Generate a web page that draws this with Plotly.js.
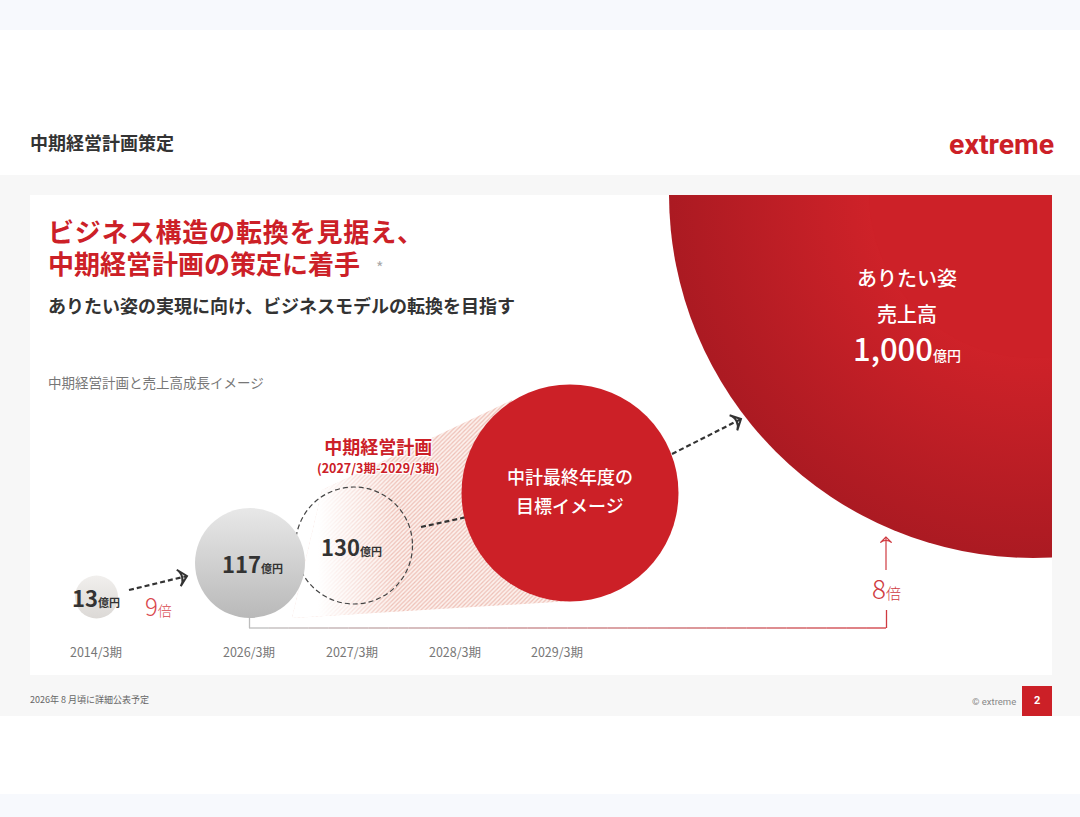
<!DOCTYPE html>
<html>
<head>
<meta charset="utf-8">
<script src="https://cdn.plot.ly/plotly-3.0.1.min.js"></script>
<style>html,body{margin:0;padding:0;background:#fff}#chart{width:1080px;height:817px}</style>
</head>
<body>
<div id="chart"></div>
<script>
// what the slide says
const periods = ["2014/3期", "2026/3期", "2027/3期", "2028/3期", "2029/3期"];
const salesLabels = ["13", "117", "130", "1,000"];
const salesUnit = "億円";
const multiples = ["9", "8"];
const goalLines = ["中計最終年度の", "目標イメージ"];
const visionLines = ["ありたい姿", "売上高"];

// where it sits on the page (px)
const tickX = [96, 249, 352, 455, 557];
const bubbleX = [96.5, 250, 570, 1033];
const bubbleY = [597, 563, 493, 194];
const bubbleSize = [43, 110, 217, 728];

const FONT = '"Noto Sans CJK JP", "Noto Sans", sans-serif';
const RED = "#cc2027";
const INK = "#333333";

const rect = (x0, y0, x1, y1, color) => ({
  type: "rect", xref: "x", yref: "y", layer: "below", x0, y0, x1, y1,
  fillcolor: color, line: { width: 0 },
});

const note = (x, y, text, size, color, extra = {}) => ({
  xref: "x", yref: "y", x, y, text, showarrow: false,
  xanchor: extra.anchor || "center", yanchor: "middle", borderpad: 0,
  align: extra.anchor === "left" ? "left" : "center",
  font: { family: FONT, size, color, ...(extra.font || {}) },
});

const valueText = (label, unitSize) =>
  `<b>${label}</b><span style="font-size:${unitSize}px;font-weight:700">${salesUnit}</span>`;

const multipleText = (label, unitSize) =>
  `${label}<span style="font-size:${unitSize}px">倍</span>`;

const bubble = (i, color, gradient, gradientColor, size = bubbleSize[i]) => ({
  x: [bubbleX[i]],
  y: [bubbleY[i]],
  xaxis: "x2",
  yaxis: "y2",
  mode: "markers",
  cliponaxis: true,
  hoverinfo: "skip",
  showlegend: false,
  marker: {
    size,
    color,
    opacity: 1,
    line: { width: 0 },
    ...(gradient ? { gradient: { type: gradient, color: gradientColor } } : {}),
  },
});

const dashedArrow = (x, y) => ({
  x, y, xaxis: "x2", yaxis: "y2",
  mode: "lines+markers",
  hoverinfo: "skip",
  showlegend: false,
  line: { color: INK, width: 2.2, dash: "5px,3px" },
  marker: {
    symbol: ["circle", "arrow-wide-open"],
    size: [0, 12],
    opacity: 1,
    angleref: "previous",
    color: INK,
    line: { color: INK, width: 2 },
  },
});

// hatched cone between the 130 circle and the goal circle
const cone = {
  x: [292, 322, 512, 572, 572, 292],
  y: [618, 490, 400, 500, 601, 618],
  mode: "lines",
  line: { width: 0 },
  fill: "toself",
  fillpattern: { shape: "/", size: 3, solidity: 0.4, fgcolor: "#eebfb6", bgcolor: "#fcf1ed" },
  hoverinfo: "skip",
  showlegend: false,
};
const coneFade = {
  x: cone.x,
  y: cone.y,
  mode: "lines",
  line: { width: 0 },
  fill: "toself",
  fillgradient: {
    type: "horizontal",
    start: 318,
    stop: 395,
    colorscale: [[0, "rgba(255,255,255,1)"], [1, "rgba(255,255,255,0)"]],
  },
  hoverinfo: "skip",
  showlegend: false,
};

const traces = [
  cone,
  coneFade,
  dashedArrow([421, 490], [527, 512]),
  dashedArrow([672, 741], [454, 419]),
  dashedArrow([129, 187], [590, 576]),
  bubble(0, "#f1efed", "vertical", "#dcd9d6"),
  bubble(1, "#e8e8e8", "vertical", "#b9b9b9"),
  bubble(2, RED),
  // big circle: flat in the middle, darkening towards the rim
  bubble(3, "#ab1a22", "radial", "#eb282e"),
  bubble(3, "#cd2128", null, null, 328),
  {
    x: [886, 886], y: [570, 537], xaxis: "x2", yaxis: "y2",
    mode: "lines+markers", hoverinfo: "skip", showlegend: false,
    line: { color: "#cf3a40", width: 1.2 },
    marker: {
      symbol: ["circle", "arrow-wide-open"], size: [0, 8], opacity: 1, angleref: "previous",
      color: "#cf3a40", line: { color: "#cf3a40", width: 1.2 },
    },
  },
];

const bracket = [
  { type: "line", xref: "x", yref: "y", x0: 249.5, x1: 249.5, y0: 618, y1: 628, line: { color: "#bdbdbd", width: 1.3 } },
  { type: "line", xref: "x", yref: "y", x0: 886.5, x1: 886.5, y0: 628, y1: 610, line: { color: "#cf3a40", width: 1.3 } },
];
const steps = 32;
for (let i = 0; i < steps; i++) {
  const t = i / (steps - 1);
  const mix = (a, b) => Math.round(a + (b - a) * t);
  bracket.push({
    type: "line", xref: "x", yref: "y",
    x0: 249 + (637 * i) / steps, x1: 249 + (637 * (i + 1)) / steps, y0: 628, y1: 628,
    line: { color: `rgb(${mix(189, 207)},${mix(189, 58)},${mix(189, 64)})`, width: 1.3 },
  });
}

const shapes = [
  rect(0, 0, 1080, 30, "#f7f9fd"),
  rect(0, 175, 1080, 716, "#f7f7f7"),
  rect(0, 794, 1080, 817, "#f7f9fd"),
  rect(30, 195, 1052, 675, "#ffffff"),
  rect(1022, 686, 1052, 716, RED),
  {
    type: "circle", xref: "x2", yref: "y2", layer: "below",
    x0: 295.5, x1: 412.5, y0: 487, y1: 604,
    line: { color: "#444444", width: 1.2, dash: "5px,3px" },
  },
  ...bracket,
];

const halo = "1px 1px 1px #fff, -1px -1px 1px #fff, 1px -1px 1px #fff, -1px 1px 1px #fff";
const medium = (text) => `<span style="font-weight:500">${text}</span>`;

const annotations = [
  note(29, 142, "<b>中期経営計画策定</b>", 18, INK, { anchor: "left" }),
  note(1001.5, 144, "<b>extreme</b>", 28.5, RED, { font: { family: "Roboto, sans-serif" } }),
  note(
    47, 246.5,
    '<span style="font-size:26px;font-weight:700;letter-spacing:0.85px">ビジネス構造の転換を見据え、</span><br>' +
      '<span style="font-size:26px;font-weight:700">中期経営計画の策定に着手</span>' +
      '<span style="font-size:16px;color:#aaaaaa">　*</span>',
    24.6, RED, { anchor: "left" },
  ),
  note(47, 305, "<b>ありたい姿の実現に向け、ビジネスモデルの転換を目指す</b>", 18, INK, { anchor: "left" }),
  note(47, 382, "中期経営計画と売上高成長イメージ", 13.5, "#777777", { anchor: "left" }),
  note(
    378, 455,
    '<span style="font-size:18px;font-weight:700">中期経営計画</span><br>' +
      '<span style="font-size:12.5px;font-weight:700">(2027/3期-2029/3期)</span>',
    14.6, RED, { font: { shadow: halo } },
  ),
  note(96, 596.5, valueText(salesLabels[0], 11), 22, INK),
  note(252, 562.5, valueText(salesLabels[1], 11), 22, INK),
  note(351.5, 545.5, valueText(salesLabels[2], 11), 22, INK),
  note(158, 605.5, multipleText(multiples[0], 14), 24, "#d9474d", { font: { weight: 300 } }),
  note(886, 587, multipleText(multiples[1], 15), 26, "#cf3a40", { font: { weight: 300 } }),
  note(570, 476, medium(goalLines[0]), 18, "#ffffff"),
  note(570, 505, medium(goalLines[1]), 18, "#ffffff"),
  note(907, 277, medium(visionLines[0]), 20, "#ffffff"),
  note(907, 313, medium(visionLines[1]), 20, "#ffffff"),
  note(907, 347.5, `${medium(salesLabels[3])}<span style="font-size:14px;font-weight:500">${salesUnit}</span>`, 31, "#ffffff"),
  note(29, 699, "2026年 8 月頃に詳細公表予定", 9, "#666666", { anchor: "left" }),
  note(1017, 701.5, "© extreme", 9.5, "#888888", { anchor: "right", font: { family: "Roboto, sans-serif" } }),
  note(1037, 700.5, "<b>2</b>", 11, "#ffffff", { font: { family: "Roboto, sans-serif" } }),
];

const layout = {
  width: 1080,
  height: 817,
  margin: { l: 0, r: 0, t: 0, b: 0 },
  paper_bgcolor: "#ffffff",
  plot_bgcolor: "rgba(0,0,0,0)",
  showlegend: false,
  xaxis: {
    domain: [0, 1],
    range: [0, 1080],
    fixedrange: true,
    showgrid: false,
    zeroline: false,
    showline: false,
    anchor: "free",
    position: (817 - 636) / 817,
    tickmode: "array",
    tickvals: tickX,
    ticktext: periods,
    ticks: "outside",
    ticklen: 5,
    tickcolor: "rgba(0,0,0,0)",
    tickfont: { family: FONT, size: 12.5, color: "#777777" },
  },
  yaxis: { domain: [0, 1], range: [817, 0], fixedrange: true, visible: false },
  xaxis2: { domain: [30 / 1080, 1052 / 1080], range: [30, 1052], anchor: "y2", fixedrange: true, visible: false },
  yaxis2: { domain: [142 / 817, 622 / 817], range: [675, 195], anchor: "x2", fixedrange: true, visible: false },
  shapes,
  annotations,
};

Plotly.newPlot("chart", traces, layout, { displayModeBar: false, staticPlot: true });
</script>
</body>
</html>
